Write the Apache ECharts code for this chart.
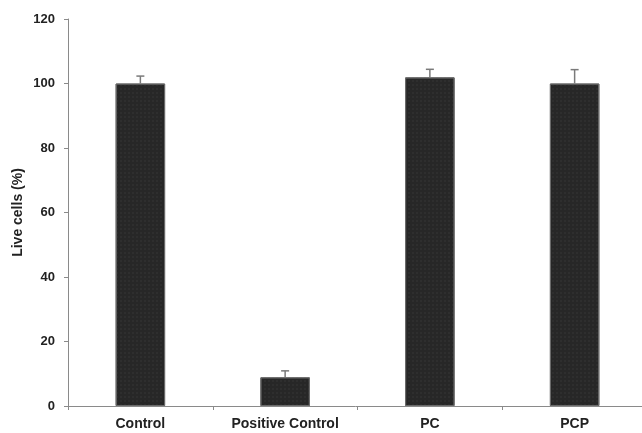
<!DOCTYPE html>
<html>
<head>
<meta charset="utf-8">
<script src="https://cdn.jsdelivr.net/npm/echarts@6/dist/echarts.min.js"></script>
<style>
  html, body { margin: 0; padding: 0; background: #fff; }
  #chart { width: 642px; height: 433px; }
</style>
</head>
<body>
<div id="chart"></div>
<script>
// Cell viability per treatment group (mean and standard deviation, %)
const groups = ['Control', 'Positive Control', 'PC', 'PCP'];
const liveCells = [100, 8.9, 101.9, 100];
const liveCellsSD = [2.3, 2.0, 2.5, 4.3];
const yTicks = { min: 0, max: 120, interval: 20 };

const chart = echarts.init(document.getElementById('chart'), null, { renderer: 'canvas' });

const fontFamily = 'Liberation Sans, Arial, sans-serif';

chart.setOption({
  animation: false,
  backgroundColor: '#fff',
  grid: { left: 68, top: 19, width: 579, height: 387, containLabel: false, outerBoundsMode: 'none' },
  xAxis: {
    type: 'category',
    data: groups,
    axisLine: { lineStyle: { color: '#8a8a8a', width: 1 } },
    axisTick: { show: true, alignWithLabel: false, length: 4, lineStyle: { color: '#8a8a8a' } },
    axisLabel: { margin: 11, interval: 0, fontFamily: fontFamily, fontWeight: 'bold', fontSize: 14, color: '#222' },
    splitLine: { show: false }
  },
  yAxis: {
    type: 'value',
    min: yTicks.min,
    max: yTicks.max,
    interval: yTicks.interval,
    name: 'Live cells (%)',
    nameLocation: 'middle',
    nameGap: 43,
    nameMoveOverlap: false,
    nameTextStyle: { fontFamily: fontFamily, fontWeight: 'bold', fontSize: 14, color: '#222' },
    axisLine: { show: true, lineStyle: { color: '#8a8a8a', width: 1 } },
    axisTick: { show: true, length: 4, lineStyle: { color: '#8a8a8a' } },
    axisLabel: { margin: 13, fontFamily: fontFamily, fontWeight: 'bold', fontSize: 13, color: '#222' },
    splitLine: { show: false }
  },
  series: [
    {
      type: 'bar',
      data: liveCells,
      barWidth: '34.2%',
      itemStyle: {
        color: '#272727',
        borderColor: '#6a6a6a',
        borderWidth: 1,
        decal: {
          symbol: 'rect',
          symbolSize: 0.5,
          color: '#444',
          dashArrayX: [2, 2],
          dashArrayY: [2, 2],
          rotation: 0
        }
      },
      z: 2
    },
    {
      // upward error bars: mean to mean + SD, with a short cap
      type: 'custom',
      data: liveCells.map((v, i) => [i, v, v + liveCellsSD[i]]),
      z: 3,
      renderItem: function (params, api) {
        const base = api.coord([api.value(0), api.value(1)]);
        const top = api.coord([api.value(0), api.value(2)]);
        const cap = 4;
        const style = { stroke: '#7a7a7a', lineWidth: 1.5 };
        return {
          type: 'group',
          children: [
            { type: 'line', shape: { x1: base[0], y1: base[1], x2: top[0], y2: top[1] }, style: style },
            { type: 'line', shape: { x1: top[0] - cap, y1: top[1], x2: top[0] + cap, y2: top[1] }, style: style }
          ]
        };
      }
    }
  ]
});
</script>
</body>
</html>
